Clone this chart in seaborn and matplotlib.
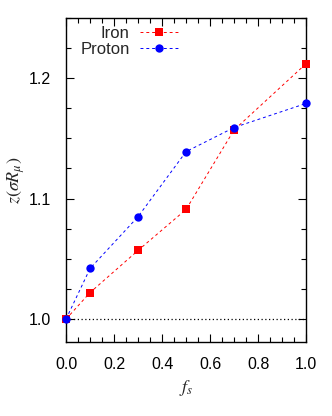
import numpy as np
import pandas as pd
import matplotlib
matplotlib.use('Agg')
import matplotlib.pyplot as plt
import seaborn as sns
from matplotlib.ticker import MultipleLocator


# Data
fs = [0.0, 0.1, 0.3, 0.5, 0.7, 1.0]
iron = [1.000, 1.022, 1.057, 1.091, 1.157, 1.212]
proton = [1.000, 1.042, 1.085, 1.139, 1.159, 1.179]

df = pd.DataFrame({
    'fs': fs + fs,
    'z': iron + proton,
    'primary': ['Iron'] * len(fs) + ['Proton'] * len(fs),
})

sns.set_style('ticks')
plt.rcParams['font.family'] = ['Liberation Sans', 'DejaVu Sans']
plt.rcParams['mathtext.fontset'] = 'stix'

fig = plt.figure(figsize=(3.32, 4.16), dpi=100)
ax = fig.add_axes([0.199, 0.178, 0.723, 0.779])

ax.axhline(1.0, color='black', linestyle=(0, (1, 2)), linewidth=0.9, zorder=1)

sns.lineplot(data=df, x='fs', y='z', hue='primary', style='primary',
             palette={'Iron': '#ff0000', 'Proton': '#0000ff'},
             markers={'Iron': 's', 'Proton': 'o'},
             dashes={'Iron': (3, 3), 'Proton': (3, 3)},
             markersize=6, markeredgewidth=0, linewidth=0.7,
             ax=ax, zorder=3, clip_on=False)

ax.set_xlim(0, 1.0)
ax.set_ylim(0.981, 1.25)
ax.xaxis.set_major_locator(MultipleLocator(0.2))
ax.xaxis.set_minor_locator(MultipleLocator(0.05))
ax.yaxis.set_major_locator(MultipleLocator(0.1))
ax.yaxis.set_minor_locator(MultipleLocator(0.025))
ax.xaxis.set_major_formatter(matplotlib.ticker.FormatStrFormatter('%.1f'))
ax.yaxis.set_major_formatter(matplotlib.ticker.FormatStrFormatter('%.1f'))
ax.tick_params(which='both', direction='in', top=True, right=True,
               labelsize=11.5, colors='black')
ax.tick_params(which='major', length=6, width=0.8, pad=11)
ax.tick_params(which='minor', length=3.5, width=0.8)
for s in ax.spines.values():
    s.set_linewidth(1.0)
    s.set_color('black')

ax.set_xlabel(r'$f_s$', fontsize=13, labelpad=4)
ax.set_ylabel(r'$z(\sigma R_\mu)$', fontsize=13, labelpad=1)

leg = ax.legend(loc='upper left', frameon=False, markerfirst=False,
                fontsize=12, handlelength=2.3, handletextpad=0.6,
                borderaxespad=0.2, borderpad=0.3,
                labelspacing=0.05, bbox_to_anchor=(0.025, 1.0))

fig.savefig('out.png', dpi=100)
